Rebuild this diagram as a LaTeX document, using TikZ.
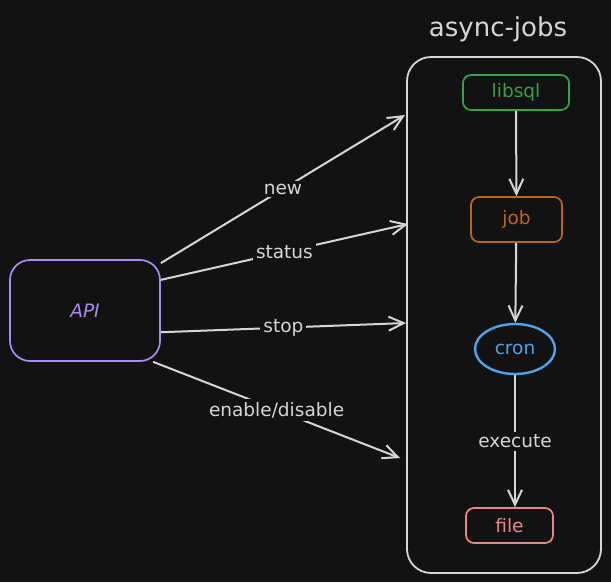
\documentclass[tikz,border=0pt]{standalone}
\usepackage{fontspec}
\setmainfont{DejaVu Sans}
\usetikzlibrary{arrows.meta,shapes.geometric}
\definecolor{bg}{HTML}{121212}
\definecolor{edge}{HTML}{D6D6D6}
\definecolor{sqlgreen}{HTML}{35A148}
\definecolor{joborange}{HTML}{C0650F}
\definecolor{cronblue}{HTML}{4FA3EA}
\definecolor{filered}{HTML}{F08585}
\definecolor{apipurple}{HTML}{A88CF2}
\begin{document}
\begin{tikzpicture}[x=1pt,y=-1pt,
  box/.style={draw, rounded corners=8pt, line width=1.7pt, inner sep=0pt,
    font=\fontsize{18.5}{20}\selectfont},
  conn/.style={draw=edge, line width=2pt,
    -{Straight Barb[length=15pt,width=14pt,line width=2pt]}},
  lbl/.style={fill=bg, text=edge, inner sep=3pt, font=\fontsize{18.5}{20}\selectfont}]
\fill[bg] (0,0) rectangle (611,582);
% container
\node[text=edge, anchor=base, font=\fontsize{26}{30}\selectfont] (title) at (498,36) {async-jobs};
\node[draw=edge, rounded corners=24pt, line width=1.8pt, minimum width=194pt,
  minimum height=516pt] (jobs) at (504,315) {};
\node[box, draw=sqlgreen, text=sqlgreen, minimum width=106pt, minimum height=35pt] (libsql) at (516,92.5) {libsql};
\node[box, draw=joborange, text=joborange, minimum width=91pt, minimum height=45pt] (job) at (516.5,219.5) {job};
\node[ellipse, draw=cronblue, text=cronblue, line width=2.4pt, inner sep=0pt,
  minimum width=80pt, minimum height=50pt, font=\fontsize{18.5}{20}\selectfont] (cron) at (515,349) {cron};
\node[box, draw=filered, text=filered, minimum width=87pt, minimum height=35pt] (file) at (509.5,525.5) {file};
\draw[conn] (libsql) -- (job);
\draw[conn] (job) -- (cron);
\draw[conn] (cron.south) -- node[lbl] {execute} (cron.south |- file.north);
% api
\node[box, draw=apipurple, text=apipurple, rounded corners=20pt, minimum width=150pt,
  minimum height=101pt, font=\fontsize{18.5}{20}\selectfont\itshape] (api) at (85,310.5) {API};
\coordinate (inNew) at (405,115);
\coordinate (inStatus) at (408,224);
\coordinate (inStop) at (406,323);
\coordinate (inEnable) at (400,458);
\draw[conn] (api.32) -- node[lbl] {new} (inNew);
\draw[conn] (api.22) -- node[lbl] {status} (inStatus);
\draw[conn] (api.-16) -- node[lbl] {stop} (inStop);
\draw[conn] (api.-37) -- node[lbl] {enable/disable} (inEnable);
\end{tikzpicture}
\end{document}
